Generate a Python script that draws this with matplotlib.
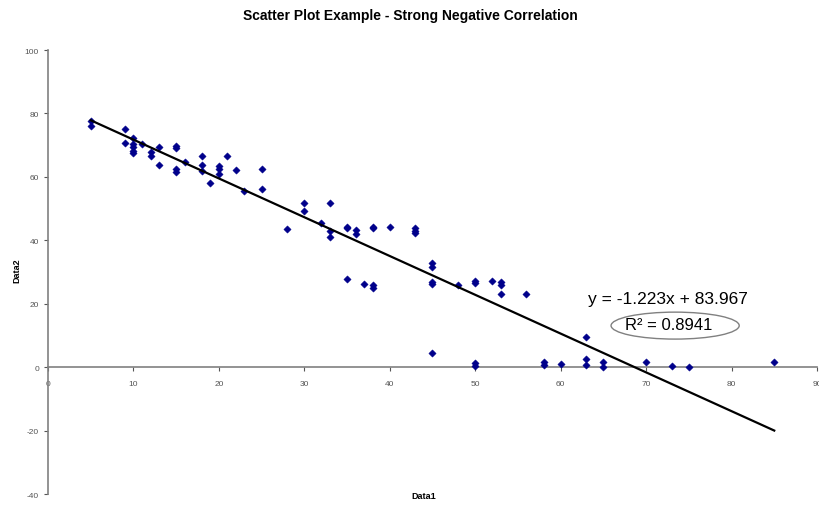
import matplotlib
matplotlib.use("Agg")
import matplotlib.pyplot as plt
from matplotlib.patches import Ellipse
import numpy as np

plt.rcParams['font.family'] = ['Liberation Sans', 'DejaVu Sans']
plt.rcParams['axes.unicode_minus'] = False

data1 = [5, 5, 9, 9, 10, 10, 10, 10, 10, 11, 12, 12, 13, 13, 15, 15, 15, 15, 16,
         18, 18, 18, 19, 20, 20, 20, 21, 22, 23, 25, 25, 28, 30, 30, 32, 33, 33, 33,
         35, 35, 36, 36, 38, 38, 40, 43, 43, 43, 45, 45, 45, 45, 48,
         35, 37, 38, 38, 45,
         50, 50, 52, 53, 53, 53, 56, 63,
         50, 50, 58, 58, 60, 63, 63, 65, 65, 70, 73, 75, 85]
data2 = [77.6, 75.9, 75.1, 70.7, 72.1, 70.3, 69.4, 68.2, 67.5, 70.4, 67.9, 66.7,
         69.3, 63.7, 69.6, 69.0, 62.6, 61.4, 64.6, 66.7, 63.7, 62.0, 58.0, 63.5,
         62.5, 60.9, 66.7, 62.1, 55.4, 62.5, 56.3, 43.5, 51.7, 49.3, 45.3, 51.7,
         43.0, 41.1, 44.3, 43.8, 43.3, 42.0, 44.3, 43.8, 44.3, 43.9, 43.0, 42.3,
         32.8, 31.6, 26.7, 26.2, 25.9,
         27.8, 26.2, 25.9, 25.1, 4.6,
         27.2, 26.4, 27.2, 26.9, 26.0, 23.2, 23.2, 9.4,
         1.2, 0.4, 1.5, 0.8, 0.9, 2.7, 0.6, 1.7, 0.0, 1.7, 0.4, 0.1, 1.7]

slope = -1.223
intercept = 83.967
r_squared = 0.8941
trend_x = [5, 85]

x_ticks = [0, 10, 20, 30, 40, 50, 60, 70, 80, 90]
y_ticks = [-40, -20, 0, 20, 40, 60, 80, 100]

fig = plt.figure(figsize=(8.2, 5.06), dpi=100)
ax = fig.add_axes([0.0585, 0.0217, 0.9378, 0.8775])

ax.scatter(data1, data2, marker='D', s=14, color='#00008B', edgecolors='#00008B',
           linewidths=0.3, zorder=3)
tx = np.array(trend_x, dtype=float)
ax.plot(tx, slope * tx + intercept, color='black', lw=1.6, zorder=4)

ax.set_xlim(0, 90)
ax.set_ylim(-40, 100)
ax.set_xticks(x_ticks)
ax.set_yticks(y_ticks)
ax.tick_params(axis='both', labelsize=6, colors='#555555', length=3, width=0.8)
ax.tick_params(axis='x', pad=6)

ax.spines['top'].set_visible(False)
ax.spines['right'].set_visible(False)
ax.spines['bottom'].set_position(('data', 0))
for s in ('left', 'bottom'):
    ax.spines[s].set_color('#808080')
    ax.spines[s].set_linewidth(1.2)

eq_text = f"y = {slope:.3f}x + {intercept:.3f}"
ax.text(72.6, 21.8, eq_text, fontsize=12.5, ha='center', va='center', color='black')
ax.text(72.7, 13.3, f"R\u00b2 = {r_squared:.4f}", fontsize=12, ha='center', va='center',
        color='black')
ax.add_patch(Ellipse((73.4, 13.1), 15.0, 8.5, fill=False, edgecolor='#808080', lw=1.0))

fig.text(0.5, 0.968, "Scatter Plot Example - Strong Negative Correlation",
         ha='center', va='center', fontsize=10, fontweight='bold')
fig.text(0.517, 0.018, "Data1", ha='center', va='center', fontsize=6.5, fontweight='bold')
fig.text(0.021, 0.466, "Data2", ha='center', va='center', fontsize=6.5, fontweight='bold',
         rotation=90)

fig.savefig("out.png", dpi=100)
